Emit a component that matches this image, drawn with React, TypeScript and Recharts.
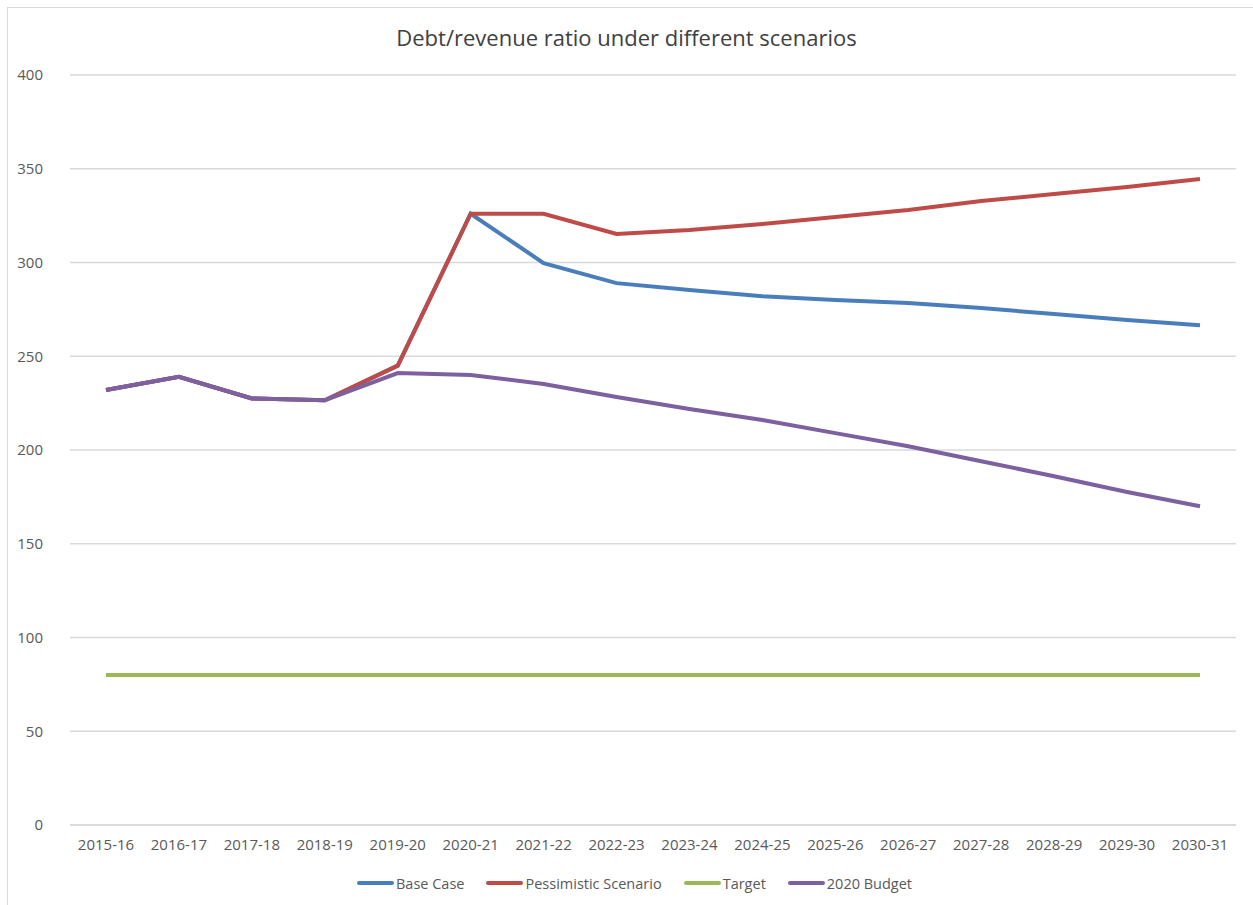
import React from 'react';
import { LineChart, Line, XAxis, YAxis, CartesianGrid, Legend } from 'recharts';

const categories = [
  '2015-16', '2016-17', '2017-18', '2018-19', '2019-20', '2020-21', '2021-22', '2022-23',
  '2023-24', '2024-25', '2025-26', '2026-27', '2027-28', '2028-29', '2029-30', '2030-31',
];
const baseCase = [232, 239, 227.5, 226.5, 245, 326, 299.7, 289, 285.3, 282, 280, 278.4, 275.7, 272.5, 269.3, 266.5];
const pessimistic = [232, 239, 227.5, 226.5, 245, 326, 326, 315.2, 317.3, 320.5, 324.3, 328, 332.8, 336.5, 340.3, 344.5];
const target = [80, 80, 80, 80, 80, 80, 80, 80, 80, 80, 80, 80, 80, 80, 80, 80];
const budget2020 = [232, 239, 227.5, 226.5, 241, 240, 235.2, 228.3, 221.9, 216, 209, 202, 194, 186, 177.6, 170];
const yTicks = [0, 50, 100, 150, 200, 250, 300, 350, 400];

const FONT = '"Open Sans", "Liberation Sans", sans-serif';
const TEXT = '#595959';
const GRID = '#d9d9d9';

const series = [
  { key: 'base', name: 'Base Case', color: '#4a7ebb', values: baseCase },
  { key: 'pess', name: 'Pessimistic Scenario', color: '#be4b48', values: pessimistic },
  { key: 'target', name: 'Target', color: '#98b954', values: target },
  { key: 'budget', name: '2020 Budget', color: '#7d60a0', values: budget2020 },
];

const data = categories.map((c, i) => {
  const row: Record<string, string | number> = { name: c };
  series.forEach((s) => { row[s.key] = s.values[i]; });
  return row;
});

const LegendBox = () => (
  <div style={{ display: 'flex', justifyContent: 'center', alignItems: 'center', gap: 22, fontFamily: FONT, fontSize: 14.5, color: TEXT, height: 20, paddingLeft: 16 }}>
    {series.map((s) => (
      <div key={s.key} style={{ display: 'flex', alignItems: 'center' }}>
        <span style={{ display: 'inline-block', width: 37, height: 4, borderRadius: 2, background: s.color, marginRight: 2 }} />
        <span>{s.name}</span>
      </div>
    ))}
  </div>
);

export default function App() {
  return (
    <div style={{ position: 'absolute', left: 0, top: 0, width: 1253, height: 905, background: '#fff', overflow: 'hidden' }}>
      <div style={{ position: 'absolute', left: 7, top: 7, width: 1260, height: 910, border: `1px solid ${GRID}` }} />
      <div style={{
        position: 'absolute', top: 22, left: 0, width: 1253, textAlign: 'center',
        fontFamily: FONT, fontSize: 22, color: '#404040',
      }}>
        Debt/revenue ratio under different scenarios
      </div>
      <div style={{ position: 'absolute', left: 0, top: 0 }}>
        <LineChart width={1253} height={905} data={data} margin={{ top: 75, right: 17, left: 0, bottom: 10 }}>
          <CartesianGrid vertical={false} stroke={GRID} strokeWidth={1.5} />
          <XAxis
            dataKey="name"
            padding={{ left: 36, right: 36 }}
            axisLine={{ stroke: GRID, strokeWidth: 1.5 }}
            tickLine={false}
            tickSize={0}
            tickMargin={14}
            tick={{ fontFamily: FONT, fontSize: 15, fill: TEXT }}
            interval={0}
            height={50}
          />
          <YAxis
            domain={[0, 400]}
            ticks={yTicks}
            width={70}
            axisLine={false}
            tickLine={false}
            tickSize={0}
            tickMargin={27}
            tick={{ fontFamily: FONT, fontSize: 15, fill: TEXT }}
          />
          <Legend
            content={() => <LegendBox />}
            wrapperStyle={{ position: 'absolute', top: 873, left: 0, width: 1253 }}
          />
          {series.map((s) => (
            <Line
              key={s.key}
              type="linear"
              dataKey={s.key}
              name={s.name}
              stroke={s.color}
              strokeWidth={4}
              dot={false}
              activeDot={false}
              isAnimationActive={false}
            />
          ))}
        </LineChart>
      </div>
    </div>
  );
}
